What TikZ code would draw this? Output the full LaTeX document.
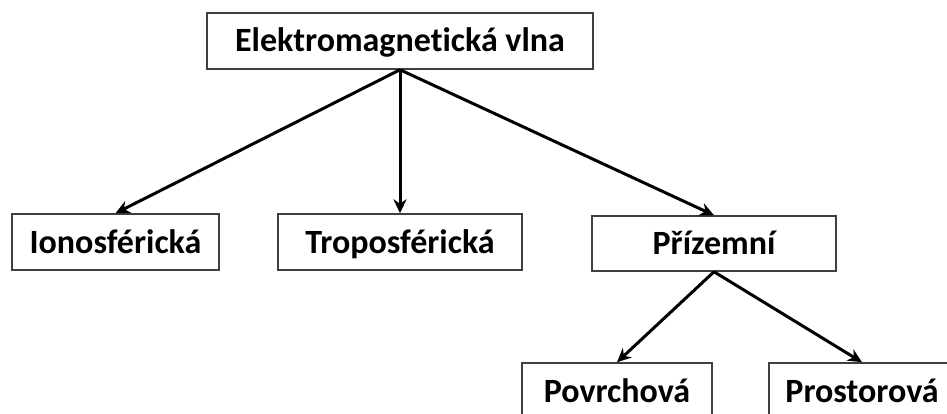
\documentclass[tikz,border=0pt]{standalone}
\usepackage{fontspec}
\setmainfont{Carlito}[Ligatures=NoCommon]
\usepackage{tikz}
\usetikzlibrary{arrows.meta,positioning}
\tikzset{
    box color/.style={black!75},
    wave box/.style={draw,box color,line width=1.5pt,text=black,inner sep=0pt,minimum height=56pt,text height=27pt,text depth=5pt,font=\fontsize{34}{40}\selectfont\bfseries},
    arr/.style={-{Stealth[length=14pt,width=13pt]},line width=3pt},
}

\begin{document}
\begin{tikzpicture}[x=1pt,y=-1pt]
        \useasboundingbox (0,0) rectangle (947,414);
        \clip (0,0) rectangle (947,414);
        \node[wave box,minimum width=386pt] (elmag) at (400,41) {Elektromagnetická vlna};
        \node[wave box,minimum width=207pt] (iono) at (115.5,242) {Ionosférická};
        \node[wave box,minimum width=244pt] (tropo) at (400,242) {Troposférická};
        \node[wave box,minimum width=244pt,minimum height=55pt] (prizem) at (714,243.5) {Přízemní};
        \node[wave box,minimum width=190pt] (povrch) at (617,391) {Povrchová};
        \node[wave box,minimum width=186pt] (prostor) at (862,391) {Prostorová};

        \draw[arr] (elmag.south) -- (iono.north);
        \draw[arr] (elmag.south) -- (tropo.north);
        \draw[arr] (elmag.south) -- (prizem.north);
        \draw[arr] (prizem.south) -- (povrch.north);
        \draw[arr] (prizem.south) -- (prostor.north);
    \end{tikzpicture}
\end{document}
